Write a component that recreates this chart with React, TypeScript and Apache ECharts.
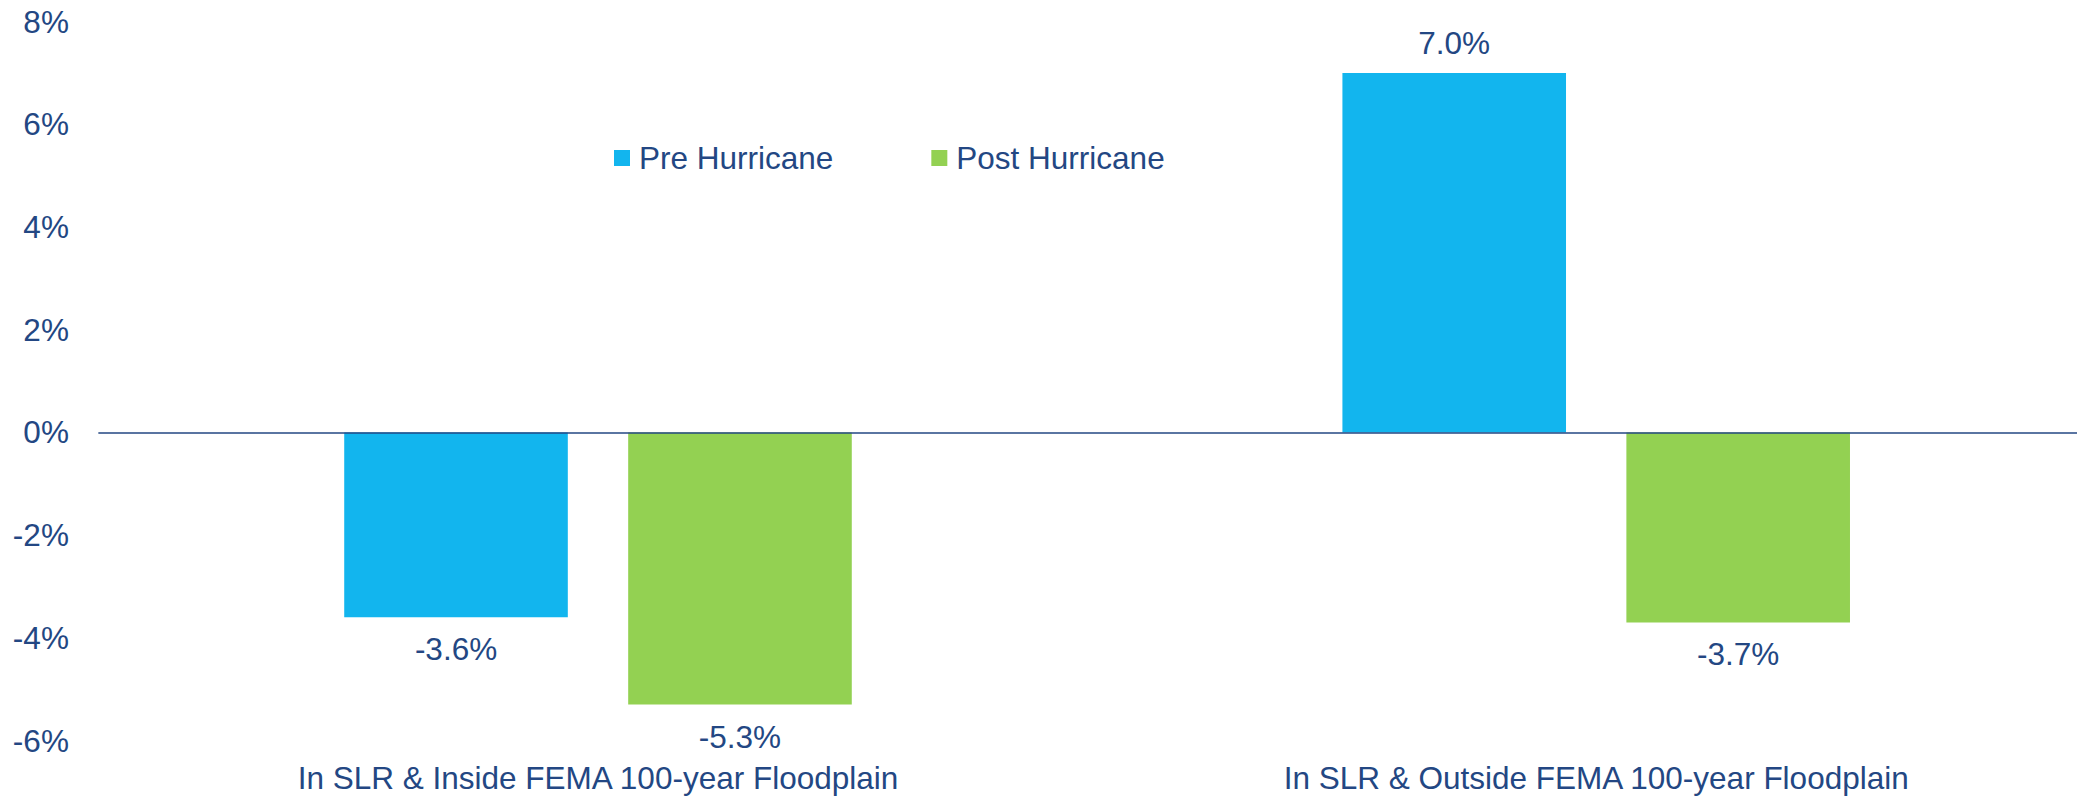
import React, { useEffect, useRef } from "react";
import * as echarts from "echarts";

// Price change by flood-risk zone, before and after the hurricane
const categories = [
  "In SLR & Inside FEMA 100-year Floodplain",
  "In SLR & Outside FEMA 100-year Floodplain",
];
const seriesNames = ["Pre Hurricane", "Post Hurricane"];
const preHurricane = [-3.6, 7.0];
const postHurricane = [-5.3, -3.7];
const yTicks = { min: -6, max: 8, step: 2 };

const NAVY = "#234783";
const BLUE = "#12B5EE";
const GREEN = "#93D152";
const FONT = "'Liberation Sans', Arial, Helvetica, sans-serif";
const FS = 31.5;

// Positive values are labelled above the bar, negative ones below it
const toItems = (vals: number[]) =>
  vals.map((v) => ({
    value: v,
    label: v >= 0 ? { position: "top", distance: 14 } : { position: "bottom", distance: 16 },
  }));

export default function App() {
  const ref = useRef<HTMLDivElement>(null);

  useEffect(() => {
    if (!ref.current) return;
    const chart = echarts.init(ref.current, undefined, { renderer: "svg" });

    const valueLabel = {
      show: true,
      color: NAVY,
      fontFamily: FONT,
      fontSize: FS,
      formatter: (p: any) => `${Number(p.value).toFixed(1)}%`,
    };

    chart.setOption({
      animation: false,
      backgroundColor: "#ffffff",
      textStyle: { fontFamily: FONT },
      grid: {
        left: 98.9,
        right: -18.3,
        top: 21.6,
        bottom: 56.5,
        containLabel: false,
        outerBoundsMode: "none",
      },
      legend: {
        left: 614,
        top: 142,
        padding: 0,
        icon: "rect",
        itemWidth: 16,
        itemHeight: 16,
        itemGap: 98,
        textStyle: {
          color: NAVY,
          fontFamily: FONT,
          fontSize: FS,
          padding: [0, 0, 0, 4],
        },
        data: seriesNames,
      },
      xAxis: [
        {
          // category labels along the bottom edge
          type: "category",
          data: categories,
          position: "bottom",
          axisLine: { show: false, onZero: false },
          axisTick: { show: false },
          axisLabel: {
            color: NAVY,
            fontFamily: FONT,
            fontSize: FS,
            margin: 21,
            interval: 0,
          },
          splitLine: { show: false },
        },
        {
          // zero baseline only
          type: "category",
          data: categories,
          position: "bottom",
          axisLine: {
            show: true,
            onZero: true,
            lineStyle: { color: NAVY, width: 1.5 },
          },
          axisTick: { show: false },
          axisLabel: { show: false },
          splitLine: { show: false },
          z: 5,
        },
      ],
      yAxis: {
        type: "value",
        min: yTicks.min,
        max: yTicks.max,
        interval: yTicks.step,
        axisLine: { show: false },
        axisTick: { show: false },
        splitLine: { show: false },
        axisLabel: {
          color: NAVY,
          fontFamily: FONT,
          fontSize: FS,
          margin: 30,
          formatter: (v: number) => `${v}%`,
        },
      },
      series: [
        {
          name: seriesNames[0],
          type: "bar",
          xAxisIndex: 0,
          barWidth: "22.4%",
          barGap: "27%",
          itemStyle: { color: BLUE },
          label: valueLabel,
          data: toItems(preHurricane),
          z: 2,
        },
        {
          name: seriesNames[1],
          type: "bar",
          xAxisIndex: 0,
          barWidth: "22.4%",
          barGap: "27%",
          itemStyle: { color: GREEN },
          label: valueLabel,
          data: toItems(postHurricane),
          z: 2,
        },
      ],
    });

    return () => chart.dispose();
  }, []);

  return (
    <div
      ref={ref}
      style={{ position: "absolute", left: 0, top: 0, width: 2077, height: 797 }}
    />
  );
}
